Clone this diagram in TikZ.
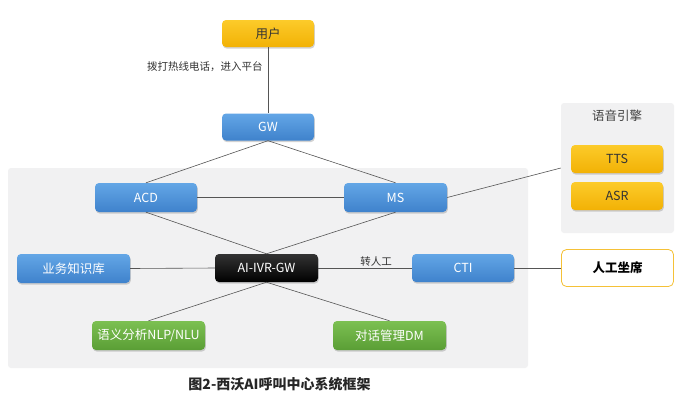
\documentclass[tikz,border=0pt]{standalone}
\usepackage{fontspec}
\setmainfont{Noto Sans CJK SC}
\usetikzlibrary{shadows,positioning}
\definecolor{bluetop}{HTML}{63A6E6}
\definecolor{bluebot}{HTML}{3F82CC}
\definecolor{yeltop}{HTML}{FCCB2A}
\definecolor{yelbot}{HTML}{F2B105}
\definecolor{grntop}{HTML}{7CC052}
\definecolor{grnbot}{HTML}{5A9E35}
\definecolor{bggray}{HTML}{F1F1F2}
\definecolor{linegray}{HTML}{555555}
\tikzset{
  box/.style={rounded corners=4pt, minimum height=28pt, inner sep=0pt, font=\fontsize{12.5}{14}\selectfont,
    drop shadow={shadow xshift=0.8pt, shadow yshift=-1.6pt, opacity=0.35}},
  bluebox/.style={box, top color=bluetop, bottom color=bluebot, text=white, draw=none},
  yelbox/.style={box, top color=yeltop, bottom color=yelbot, text=black!80, draw=none},
  grnbox/.style={box, top color=grntop, bottom color=grnbot, text=white, draw=none},
  blkbox/.style={box, top color=black!80, bottom color=black, text=white, draw=none},
  conn/.style={draw=linegray, line width=0.6pt},
  lbl/.style={font=\fontsize{10.5}{12}\selectfont, text=black!80, inner sep=1pt}
}
\begin{document}
\begin{tikzpicture}[x=1pt,y=-1pt]
\useasboundingbox (0,0) rectangle (684,416);
\fill[white] (0,0) rectangle (684,416);
% backgrounds
\fill[bggray, rounded corners=3pt] (8,168) rectangle (528,368);
\node[fill=bggray, rounded corners=3pt, minimum width=113pt, minimum height=130pt, inner sep=0pt] (engine) at (617.5,168) {};
\node[font=\fontsize{12.5}{14}\selectfont, text=black!75] (enginet) at (617,116) {语音引擎};
% nodes
\node[yelbox, minimum width=92pt, minimum height=27pt] (user) at (268,33.5) {用户};
\node[bluebox, minimum width=92pt, minimum height=27pt] (gw) at (268,127) {GW};
\node[bluebox, minimum width=102pt, minimum height=29pt] (acd) at (146,197.5) {ACD};
\node[bluebox, minimum width=103pt, minimum height=29pt] (ms) at (395.5,197.5) {MS};
\node[yelbox, minimum width=92pt] (tts) at (617,159) {TTS};
\node[yelbox, minimum width=92pt] (asr) at (617,196) {ASR};
\node[bluebox, minimum width=113pt, minimum height=29pt] (kb) at (73.5,268.5) {业务知识库};
\node[blkbox, minimum width=103pt] (ivr) at (266.5,268) {AI-IVR-GW};
\node[bluebox, minimum width=102pt] (cti) at (463,268) {CTI};
\node[draw=yelbot!80, fill=white, rounded corners=5pt, line width=0.8pt, minimum width=112pt, minimum height=37pt, inner sep=0pt, font=\fontsize{12.5}{14}\selectfont\bfseries] (agent) at (617.5,268) {人工坐席};
\node[grnbox, minimum width=113pt, minimum height=29pt] (nlp) at (148.5,335.5) {语义分析NLP/NLU};
\node[grnbox, minimum width=113pt, minimum height=29pt] (dm) at (389.5,335.5) {对话管理DM};
% connectors
\draw[conn] (user.south) -- node[lbl, left=4pt, pos=0.3] {拨打热线电话，进入平台} (gw.north);
\draw[conn] (gw.south) -- (acd.north);
\draw[conn] (gw.south) -- (ms.north);
\draw[conn] (acd.east) -- (ms.west);
\draw[conn] (acd.south) -- (ivr.north);
\draw[conn] (ms.south) -- (ivr.north);
\draw[conn] (ms.east) -- (engine.west);
\draw[conn] (kb.east) -- (ivr.west);
\draw[conn] (ivr.east) -- node[lbl, above=0pt, pos=0.62] {转人工} (cti.west);
\draw[conn] (cti.east) -- (agent.west);
\draw[conn] (ivr.south) -- (nlp.north);
\draw[conn] (ivr.south) -- (dm.north);
% caption
\node[font=\fontsize{14}{16}\selectfont\bfseries, text=black!85] (cap) at (279.5,384) {图2-西沃AI呼叫中心系统框架};
\end{tikzpicture}
\end{document}
